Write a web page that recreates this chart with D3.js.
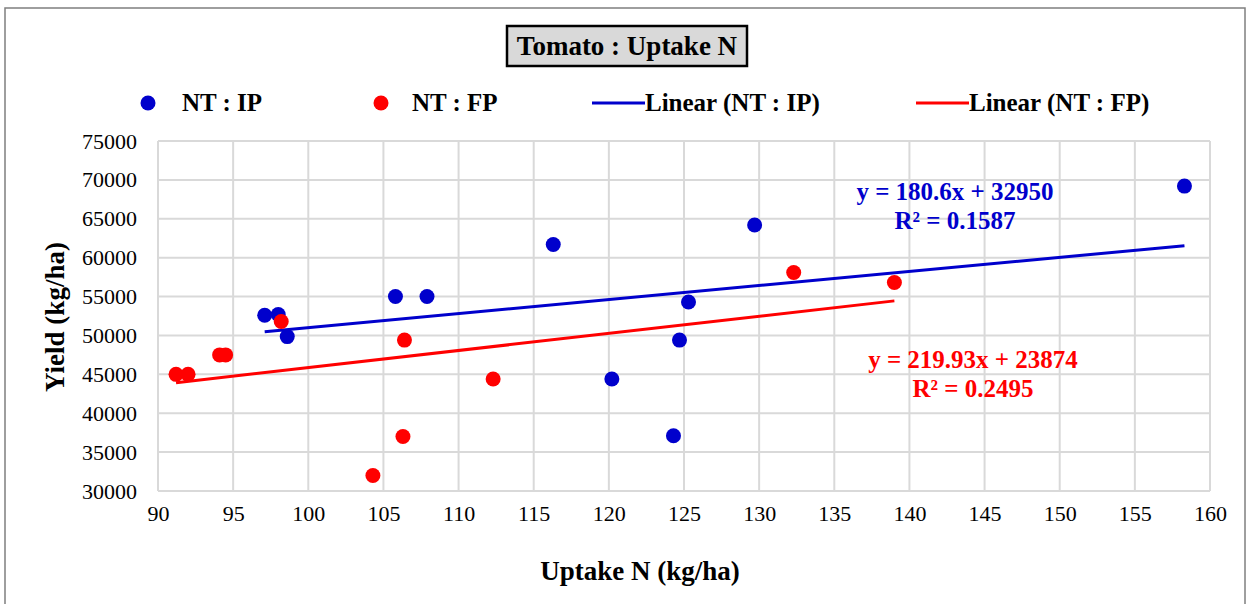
<!DOCTYPE html>
<html><head><meta charset="utf-8">
<script src="https://cdn.jsdelivr.net/npm/d3@7"></script>
<style>body{margin:0;background:#fff}svg{display:block}svg text{font-family:"Times New Roman","Liberation Serif",Tinos,"DejaVu Serif",serif !important}</style>
</head><body>
<svg id="c" width="1251" height="604"></svg>
<script>
const ipX = [97.1, 98.0, 98.6, 105.8, 107.9, 116.3, 120.2, 124.3, 124.7, 125.3, 129.7, 158.3];
const ipY = [52600, 52700, 49850, 55000, 55000, 61700, 44400, 37100, 49400, 54300, 64200, 69200];
const fpX = [91.2, 92.0, 94.1, 94.5, 98.2, 104.3, 106.3, 106.4, 112.3, 132.3, 139.0];
const fpY = [45000, 45000, 47500, 47500, 51800, 32000, 37000, 49400, 44400, 58100, 56800];
const ipFit = {slope: 180.6, intercept: 32950};
const fpFit = {slope: 219.93, intercept: 23874};
const xTicks = [90, 95, 100, 105, 110, 115, 120, 125, 130, 135, 140, 145, 150, 155, 160];
const yTicks = [30000, 35000, 40000, 45000, 50000, 55000, 60000, 65000, 70000, 75000];
const legendLabels = ["NT : IP", "NT : FP", "Linear (NT : IP)", "Linear (NT : FP)"];
const eqLabels = ["y = 180.6x + 32950", "R² = 0.1587", "y = 219.93x + 23874", "R² = 0.2495"];

const BLUE = "#0000cc", RED = "#ff0000";
const FONT = "'Times New Roman','Liberation Serif',Tinos,'DejaVu Serif',serif";
const svg = d3.select("#c");
svg.append("rect").attr("x",5).attr("y",8).attr("width",1240).attr("height",620)
  .attr("fill","#fff").attr("stroke","#7f7f7f").attr("stroke-width",1.5);

const L = 158, R = 1210, T = 141, B = 491;
const x = d3.scaleLinear().domain([90,160]).range([L,R]);
const y = d3.scaleLinear().domain([30000,75000]).range([B,T]);

// grid
const g = svg.append("g");
g.selectAll("line.v").data(xTicks).join("line")
  .attr("x1",d=>x(d)).attr("x2",d=>x(d)).attr("y1",T).attr("y2",B)
  .attr("stroke","#d9d9d9").attr("stroke-width",2);
g.selectAll("line.h").data(yTicks).join("line")
  .attr("x1",L).attr("x2",R).attr("y1",d=>y(d)).attr("y2",d=>y(d))
  .attr("stroke","#d9d9d9").attr("stroke-width",2);

// axes labels
const xa = svg.append("g").attr("transform",`translate(0,${B})`)
  .call(d3.axisBottom(x).tickValues(xTicks).tickSize(0).tickPadding(14).tickFormat(d3.format("d")));
xa.attr("font-family",FONT);
xa.select(".domain").remove();
xa.selectAll("text").attr("font-size",22).attr("fill","#000");
const ya = svg.append("g").attr("transform",`translate(${L},0)`)
  .call(d3.axisLeft(y).tickValues(yTicks).tickSize(0).tickPadding(21).tickFormat(d3.format("d")));
ya.attr("font-family",FONT);
ya.select(".domain").remove();
ya.selectAll("text").attr("font-size",22).attr("fill","#000");

// trendlines
function trend(xs, fit, color){
  const ext = d3.extent(xs);
  svg.append("line").attr("x1",x(ext[0])).attr("x2",x(ext[1]))
    .attr("y1",y(fit.slope*ext[0]+fit.intercept)).attr("y2",y(fit.slope*ext[1]+fit.intercept))
    .attr("stroke",color).attr("stroke-width",3);
}
trend(ipX, ipFit, BLUE);
trend(fpX, fpFit, RED);

// points
svg.append("g").selectAll("circle").data(ipX.map((v,i)=>[v,ipY[i]])).join("circle")
  .attr("cx",d=>x(d[0])).attr("cy",d=>y(d[1])).attr("r",7.5).attr("fill",BLUE);
svg.append("g").selectAll("circle").data(fpX.map((v,i)=>[v,fpY[i]])).join("circle")
  .attr("cx",d=>x(d[0])).attr("cy",d=>y(d[1])).attr("r",7.5).attr("fill",RED);

// equations
const eq = [[955,200,eqLabels[0],BLUE],[955,229,eqLabels[1],BLUE],[973,368,eqLabels[2],RED],[973,397,eqLabels[3],RED]];
eq.forEach(e=>svg.append("text").attr("x",e[0]).attr("y",e[1]).attr("text-anchor","middle").attr("font-family",FONT)
  .attr("font-size",25).attr("font-weight","bold").attr("fill",e[3]).text(e[2]));

// title
svg.append("rect").attr("x",507).attr("y",26).attr("width",240).attr("height",40)
  .attr("fill","#d9d9d9").attr("stroke","#000").attr("stroke-width",2.5);
svg.append("text").attr("x",627).attr("y",55).attr("text-anchor","middle").attr("font-family",FONT)
  .attr("font-size",27).attr("font-weight","bold").text("Tomato : Uptake N");

// legend
const lg = svg.append("g").attr("font-size",25).attr("font-weight","bold").attr("font-family",FONT);
lg.append("circle").attr("cx",148).attr("cy",103).attr("r",7.5).attr("fill",BLUE);
lg.append("text").attr("x",182).attr("y",111).text(legendLabels[0]);
lg.append("circle").attr("cx",381).attr("cy",103).attr("r",7.5).attr("fill",RED);
lg.append("text").attr("x",412).attr("y",111).text(legendLabels[1]);
lg.append("line").attr("x1",592).attr("x2",645).attr("y1",103).attr("y2",103).attr("stroke",BLUE).attr("stroke-width",3);
lg.append("text").attr("x",645).attr("y",111).text(legendLabels[2]);
lg.append("line").attr("x1",916).attr("x2",969).attr("y1",103).attr("y2",103).attr("stroke",RED).attr("stroke-width",3);
lg.append("text").attr("x",969).attr("y",111).text(legendLabels[3]);

// axis titles
svg.append("text").attr("x",640).attr("y",580).attr("text-anchor","middle").attr("font-family",FONT)
  .attr("font-size",27).attr("font-weight","bold").text("Uptake N (kg/ha)");
svg.append("text").attr("transform","translate(64,317) rotate(-90)").attr("text-anchor","middle").attr("font-family",FONT)
  .attr("font-size",27).attr("font-weight","bold").text("Yield  (kg/ha)");
</script>
</body></html>
